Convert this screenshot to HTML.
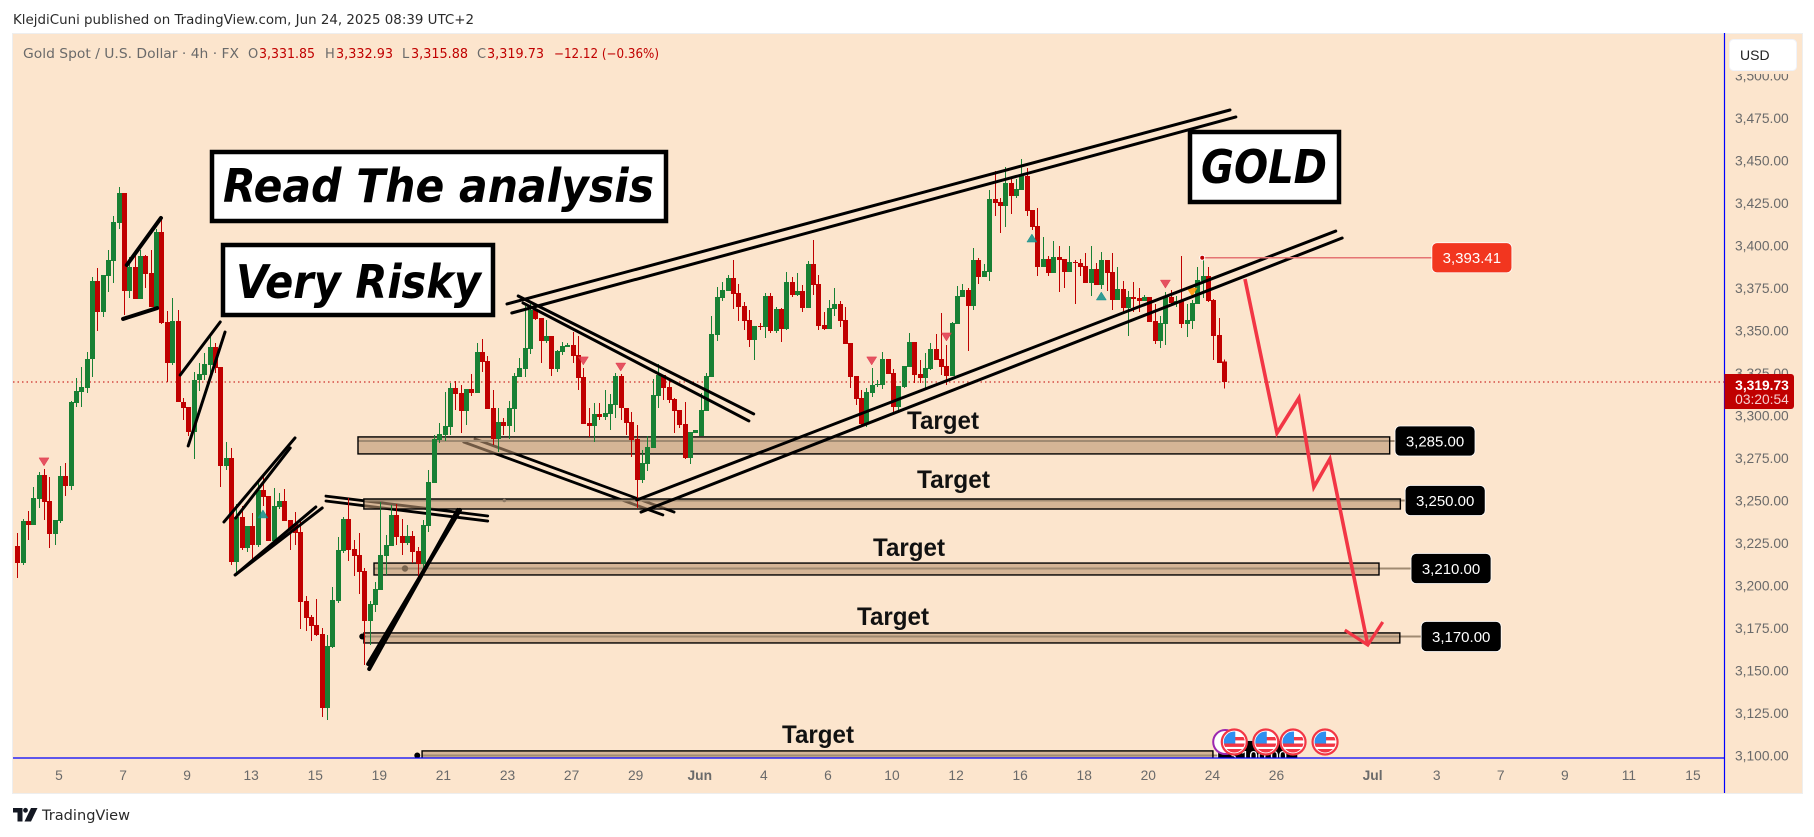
<!DOCTYPE html>
<html lang="en">
<head>
<meta charset="utf-8">
<title>Gold Spot / U.S. Dollar 4h chart</title>
<style>
html,body{margin:0;padding:0;background:#fff;width:1814px;height:837px;overflow:hidden}
svg{display:block;font-family:"DejaVu Sans","Liberation Sans",sans-serif}
.ax{font-family:"Liberation Sans",sans-serif;font-size:13.8px;fill:#6a6a6a}
.big{font-weight:bold;font-style:italic;font-size:46px;fill:#000}
.tgt{font-family:"Liberation Sans",sans-serif;font-weight:bold;font-size:25px;fill:#111}
</style>
</head>
<body>
<svg xmlns="http://www.w3.org/2000/svg" width="1814" height="837" viewBox="0 0 1814 837">
  <defs>
    <clipPath id="pane"><rect x="13" y="33" width="1711" height="725"/></clipPath>
    <clipPath id="flagclip"><circle cx="0" cy="0" r="10.5"/></clipPath>
  </defs>
  <rect width="1814" height="837" fill="#fff"/>
  <text x="13" y="24" font-size="13" fill="#2a2a2a" textLength="461" lengthAdjust="spacingAndGlyphs">KlejdiCuni published on TradingView.com, Jun 24, 2025 08:39 UTC+2</text>
  <rect x="12.5" y="33.5" width="1790" height="760" fill="#fce5cd" stroke="#eeeeee" stroke-width="1"/>

  <g clip-path="url(#pane)">
    <g id="muted-lines"></g>
    <g id="zones"></g>
    <g id="grid-price"></g>
    <g id="candles"></g>
    <g id="markers"></g>
    <g id="lines"></g>
    <g id="zone-labels"></g>
    <g id="arrow"></g>
    <g id="alert"></g>
    <g id="events"></g>
  </g>

  <g>
    <rect x="223" y="245" width="270" height="70" fill="#fff" stroke="#000" stroke-width="4.5"/>
    <text class="big" x="236" y="298" textLength="245" lengthAdjust="spacingAndGlyphs">Very Risky</text>
  </g>
  <g>
    <rect x="212" y="152" width="454" height="69" fill="#fff" stroke="#000" stroke-width="4.5"/>
    <text class="big" x="223" y="202" textLength="431" lengthAdjust="spacingAndGlyphs">Read The analysis</text>
  </g>
  <g>
    <rect x="1190" y="132" width="149" height="70" fill="#fff" stroke="#000" stroke-width="4.5"/>
    <text class="big" x="1201" y="183" textLength="126" lengthAdjust="spacingAndGlyphs">GOLD</text>
  </g>

  <text class="tgt" x="907" y="429" textLength="72" lengthAdjust="spacingAndGlyphs">Target</text>
  <text class="tgt" x="917" y="488" textLength="73" lengthAdjust="spacingAndGlyphs">Target</text>
  <text class="tgt" x="873" y="556" textLength="72" lengthAdjust="spacingAndGlyphs">Target</text>
  <text class="tgt" x="857" y="625" textLength="72" lengthAdjust="spacingAndGlyphs">Target</text>
  <text class="tgt" x="782" y="743" textLength="72" lengthAdjust="spacingAndGlyphs">Target</text>

  <g font-size="13">
    <text x="23" y="58" fill="#6a6a6a" textLength="216" lengthAdjust="spacingAndGlyphs">Gold Spot / U.S. Dollar · 4h · FX</text>
    <text x="248" y="58" fill="#6a6a6a">O</text>
    <text x="259" y="58" fill="#c00000" textLength="56" lengthAdjust="spacingAndGlyphs">3,331.85</text>
    <text x="325" y="58" fill="#6a6a6a">H</text>
    <text x="336" y="58" fill="#c00000" textLength="57" lengthAdjust="spacingAndGlyphs">3,332.93</text>
    <text x="402" y="58" fill="#6a6a6a">L</text>
    <text x="411" y="58" fill="#c00000" textLength="57" lengthAdjust="spacingAndGlyphs">3,315.88</text>
    <text x="477" y="58" fill="#6a6a6a">C</text>
    <text x="487" y="58" fill="#c00000" textLength="57" lengthAdjust="spacingAndGlyphs">3,319.73</text>
    <text x="554" y="58" fill="#c00000" textLength="105" lengthAdjust="spacingAndGlyphs">−12.12 (−0.36%)</text>
  </g>

  <g id="y-axis"></g>
  <g id="x-axis"></g>

  <line x1="13" y1="758" x2="1724" y2="758" stroke="#0000ff" stroke-width="1.2"/>
  <line x1="1724.5" y1="33" x2="1724.5" y2="793" stroke="#0000ff" stroke-width="1.2"/>

  <rect x="1725.5" y="34" width="76.5" height="40" fill="#fce5cd"/>
  <g>
    <rect x="1729.5" y="39.5" width="67" height="31" rx="4" fill="#fff" stroke="#f0f3fa"/>
    <text x="1740" y="60" font-family="Liberation Sans, sans-serif" font-size="14" fill="#222">USD</text>
  </g>
  <g>
    <path d="M1724.5 374H1791a3 3 0 0 1 3 3V406a3 3 0 0 1 -3 3H1724.5Z" fill="#c00000"/>
    <text x="1762" y="390" text-anchor="middle" font-family="Liberation Sans, sans-serif" font-size="13.8" font-weight="bold" fill="#ffffff">3,319.73</text>
    <text x="1762" y="404" text-anchor="middle" font-family="Liberation Sans, sans-serif" font-size="13.8" fill="#f6d0d0">03:20:54</text>
  </g>

  <g>
    <path d="M13 808H22.5V821.5H17.5V812.5H13Z" fill="#131722"/>
    <circle cx="25.5" cy="810.3" r="2.4" fill="#131722"/>
    <path d="M31 808H37.5L31 821.5H24.5Z" fill="#131722"/>
    <text x="42" y="820" font-size="14.5" fill="#2a2a2a" textLength="88" lengthAdjust="spacingAndGlyphs">TradingView</text>
  </g>

<script>
// ---- Candle data (one entry per 4h bar) ----
const opens = [
3223.2,3213.2,3237.9,3235.6,3250.9,3265.0,3249.7,3230.3,3237.9,3264.4,
3258.5,3307.3,3313.8,3316.2,3333.2,3379.1,3360.9,3382.0,3390.9,3413.2,
3430.9,3373.2,3387.3,3368.5,3393.8,3383.8,3363.8,3407.9,3355.0,3330.9,
3355.6,3307.9,3305.0,3290.3,3320.9,3323.8,3329.7,3340.3,3328.5,3270.3,
3275.0,3213.8,3240.3,3222.1,3235.0,3223.8,3256.2,3252.6,3226.2,3246.2,
3249.7,3238.5,3236.2,3231.5,3190.9,3181.5,3176.8,3171.5,3128.0,3163.8,
3190.9,3220.3,3239.1,3221.5,3218.0,3208.5,3179.1,3188.5,3197.4,3217.4,
3223.2,3241.5,3229.1,3225.0,3229.1,3220.3,3212.6,3235.0,3260.3,3285.6,
3288.5,3293.2,3316.2,3313.2,3302.6,3315.6,3313.2,3337.4,3332.1,3304.4,
3286.2,3296.2,3293.8,3303.8,3322.6,3327.3,3339.1,3362.1,3357.4,3343.8,
3346.8,3327.3,3337.4,3340.3,3341.5,3335.6,3322.6,3295.6,3293.8,3300.9,
3299.1,3300.9,3306.2,3323.2,3304.4,3296.2,3286.2,3262.1,3271.5,3280.9,
3311.5,3323.8,3316.8,3309.7,3303.2,3295.0,3275.0,3289.7,3288.0,3302.6,
3322.6,3347.4,3369.1,3373.2,3380.9,3372.0,3364.4,3356.2,3344.4,3352.6,
3352.0,3370.3,3349.7,3362.6,3350.9,3378.5,3370.9,3373.2,3363.2,3389.1,
3377.3,3353.2,3350.9,3362.6,3365.6,3356.2,3342.6,3323.2,3310.3,3295.0,
3313.2,3317.9,3317.9,3333.2,3325.0,3305.0,3316.8,3328.5,3343.2,3324.4,
3322.0,3327.3,3339.1,3333.2,3329.1,3323.2,3353.8,3369.7,3373.8,3364.4,
3391.5,3381.5,3384.4,3427.4,3425.6,3423.2,3436.8,3429.1,3432.6,3440.9,
3420.9,3411.5,3387.3,3392.1,3383.8,3393.2,3392.1,3384.4,3390.3,3389.7,
3387.9,3377.9,3386.2,3376.8,3391.5,3384.4,3367.9,3374.4,3363.2,3369.7,
3369.1,3367.3,3369.7,3355.6,3343.8,3353.8,3369.7,3366.2,3367.3,3353.8,
3355.6,3365.6,3379.1,3382.0,3367.9,3347.4,3331.85];
const highs = [
3230.9,3239.1,3243.8,3257.9,3266.8,3268.5,3263.8,3238.5,3270.3,3272.1,
3308.5,3322.1,3328.5,3337.4,3381.5,3386.8,3382.6,3397.3,3417.4,3434.4,
3430.9,3393.2,3396.8,3397.3,3394.4,3397.3,3409.7,3416.2,3361.5,3369.1,
3362.1,3310.3,3305.0,3325.6,3330.9,3336.8,3346.2,3342.6,3328.5,3284.4,
3280.9,3247.9,3246.8,3235.0,3242.6,3260.9,3265.0,3252.6,3257.4,3254.4,
3256.8,3238.5,3243.2,3238.5,3193.8,3182.6,3192.1,3175.0,3170.9,3199.1,
3228.5,3240.3,3251.5,3226.8,3230.9,3210.3,3190.9,3202.1,3249.1,3229.7,
3247.4,3247.9,3239.1,3235.6,3232.1,3222.7,3238.5,3268.0,3288.5,3295.6,
3313.8,3319.1,3320.3,3317.9,3315.6,3324.4,3342.6,3345.0,3335.0,3315.0,
3304.4,3298.5,3308.5,3325.0,3333.8,3364.4,3365.6,3365.6,3357.4,3356.2,
3346.8,3338.5,3343.2,3342.6,3349.1,3346.8,3327.9,3304.4,3307.3,3307.3,
3315.0,3312.6,3325.0,3324.4,3304.4,3302.0,3294.4,3279.7,3288.0,3321.5,
3330.3,3323.8,3322.1,3310.3,3303.2,3307.9,3290.3,3291.5,3313.2,3325.0,
3358.5,3375.6,3378.5,3382.6,3391.5,3377.3,3366.8,3362.1,3352.6,3354.4,
3372.0,3372.0,3363.8,3363.2,3384.4,3381.5,3383.8,3376.8,3390.9,3403.2,
3382.6,3360.9,3367.9,3375.0,3367.3,3363.8,3342.6,3323.2,3315.0,3316.2,
3327.9,3320.9,3337.4,3333.2,3327.3,3317.4,3329.1,3348.5,3343.2,3332.6,
3336.8,3342.6,3347.9,3360.3,3341.5,3355.0,3376.2,3377.3,3375.0,3398.5,
3392.6,3389.1,3432.6,3443.8,3427.9,3446.2,3439.7,3439.1,3450.9,3445.6,
3420.9,3422.1,3405.0,3393.8,3402.6,3399.7,3392.1,3399.7,3391.5,3392.1,
3395.6,3399.7,3389.7,3396.2,3391.5,3395.6,3387.3,3379.1,3373.2,3378.5,
3375.0,3370.9,3369.7,3365.6,3358.5,3372.6,3373.8,3370.3,3393.8,3365.6,
3367.9,3387.3,3392.6,3387.3,3368.5,3357.4,3332.93];
const lows = [
3204.4,3212.1,3226.8,3235.6,3245.6,3238.5,3222.1,3223.8,3236.8,3252.6,
3256.2,3305.0,3305.0,3313.2,3322.6,3349.7,3357.9,3372.6,3377.9,3409.7,
3359.1,3369.1,3368.5,3368.5,3375.0,3363.8,3363.8,3353.8,3319.7,3329.7,
3307.9,3297.4,3288.0,3274.4,3314.4,3320.9,3323.8,3325.0,3257.9,3268.0,
3212.1,3207.4,3220.9,3219.7,3215.6,3222.7,3246.8,3226.2,3225.0,3245.0,
3237.9,3220.9,3223.8,3174.4,3173.2,3167.4,3170.3,3122.7,3120.9,3163.2,
3189.7,3219.1,3214.4,3205.6,3195.0,3153.2,3165.0,3184.4,3197.4,3206.2,
3223.2,3223.8,3218.0,3223.8,3213.2,3203.8,3207.4,3231.5,3260.3,3283.8,
3285.0,3288.5,3303.2,3289.7,3294.4,3311.5,3313.2,3325.6,3303.8,3282.7,
3278.5,3288.5,3286.2,3290.3,3322.6,3322.6,3336.2,3356.2,3330.9,3342.6,
3323.2,3325.6,3335.6,3340.3,3330.9,3315.0,3295.0,3287.4,3284.4,3297.4,
3297.4,3291.5,3298.5,3297.4,3288.5,3275.6,3245.6,3260.3,3267.4,3280.9,
3304.4,3309.1,3307.3,3289.7,3292.6,3274.4,3271.5,3289.7,3288.0,3302.6,
3322.6,3343.8,3367.3,3373.2,3362.6,3355.6,3350.3,3340.3,3332.6,3350.3,
3345.6,3348.5,3348.5,3343.2,3350.3,3369.7,3370.3,3360.9,3363.2,3370.9,
3350.3,3350.3,3350.9,3358.5,3352.0,3342.0,3316.2,3306.2,3294.4,3293.2,
3310.9,3316.8,3315.6,3324.4,3301.5,3301.5,3316.2,3328.5,3319.1,3319.1,
3315.0,3326.7,3332.6,3323.8,3317.9,3323.2,3353.8,3369.7,3337.9,3362.1,
3377.3,3381.5,3379.1,3417.4,3407.4,3410.9,3418.5,3427.9,3432.6,3417.4,
3409.1,3382.0,3387.3,3382.0,3383.8,3372.6,3375.0,3384.4,3365.6,3382.0,
3377.9,3370.3,3376.8,3374.4,3373.2,3362.1,3367.9,3359.7,3346.8,3360.9,
3360.9,3367.3,3355.0,3342.0,3339.7,3341.5,3365.0,3363.8,3351.5,3346.2,
3350.9,3365.6,3369.1,3366.8,3332.6,3330.9,3315.88];
const closes = [
3213.2,3237.9,3235.6,3251.5,3265.0,3249.1,3230.3,3238.5,3264.4,3258.5,
3307.9,3314.4,3316.8,3333.2,3379.1,3360.9,3382.6,3391.5,3413.8,3430.9,
3373.2,3387.3,3368.5,3393.8,3383.2,3363.8,3407.9,3354.4,3330.9,3355.6,
3307.9,3304.4,3290.3,3320.9,3324.4,3330.3,3340.3,3327.9,3270.3,3275.0,
3213.8,3240.3,3222.1,3235.0,3223.8,3256.2,3252.1,3226.2,3246.8,3249.7,
3237.9,3232.6,3230.9,3190.3,3180.9,3176.2,3170.9,3128.0,3164.4,3191.5,
3220.9,3239.1,3220.9,3217.4,3208.0,3179.1,3189.1,3197.9,3218.0,3223.8,
3241.5,3228.5,3225.0,3229.1,3219.7,3212.6,3235.6,3260.9,3286.2,3289.1,
3293.8,3316.2,3312.6,3302.6,3315.6,3313.2,3337.4,3331.5,3303.8,3286.2,
3296.2,3293.8,3304.4,3323.2,3327.9,3339.7,3362.1,3356.8,3343.8,3346.8,
3327.3,3337.9,3340.9,3341.5,3335.0,3322.1,3295.0,3293.8,3300.9,3299.1,
3301.5,3306.8,3323.2,3304.4,3295.6,3285.6,3262.1,3272.1,3281.5,3312.0,
3323.8,3316.2,3309.1,3302.6,3294.4,3275.0,3290.3,3291.5,3303.2,3323.2,
3347.9,3369.7,3373.8,3380.9,3371.5,3363.8,3355.6,3344.4,3352.6,3352.0,
3370.3,3349.7,3362.6,3350.9,3378.5,3370.9,3373.2,3363.2,3389.1,3376.8,
3352.6,3350.9,3363.2,3365.6,3355.6,3342.0,3322.6,3309.7,3295.0,3313.8,
3317.9,3318.5,3333.2,3324.4,3305.0,3317.4,3329.1,3343.2,3323.8,3322.0,
3327.9,3339.1,3332.6,3328.5,3323.2,3354.4,3370.3,3373.8,3364.4,3391.5,
3381.5,3385.0,3427.4,3425.0,3423.2,3436.8,3429.1,3433.2,3440.9,3420.3,
3410.9,3387.3,3392.1,3383.8,3393.2,3391.5,3384.4,3390.3,3389.7,3387.3,
3377.9,3386.2,3376.8,3391.5,3383.8,3367.9,3374.4,3363.2,3369.7,3368.5,
3367.3,3369.7,3355.0,3343.8,3354.4,3369.7,3366.2,3367.3,3353.8,3356.2,
3366.2,3379.7,3382.0,3367.3,3346.8,3330.9,3319.73];

// ---- Axis labels ----
const yTickLabels = ["3,500.00","3,475.00","3,450.00","3,425.00","3,400.00","3,375.00","3,350.00","3,325.00","3,300.00","3,275.00","3,250.00","3,225.00","3,200.00","3,175.00","3,150.00","3,125.00","3,100.00"];
const xTickLabels = ["5","7","9","13","15","19","21","23","27","29","Jun","4","6","10","12","16","18","20","24","26","Jul","3","7","9","11","15"];
const xTickBars = [7.8,19.8,31.8,43.8,55.8,67.8,79.8,91.8,103.8,115.8,127.8,139.8,151.8,163.8,175.8,187.8,199.8,211.8,223.8,235.8,253.8,265.8,277.8,289.8,301.8,313.8];

// ---- Target zones: bar range, price band, level, tag ----
const zoneLeftBars = [63.8,64.9,66.8,64.9,75.8];
const zoneRightBars = [257.0,259.0,255.0,258.9,223.9];
const zoneTopPrices = [3287.4,3250.9,3213.2,3172.1,3102.7];
const zoneBottomPrices = [3277.4,3245.0,3206.2,3166.2,3096.8];
const zoneLevels = [3285,3250,3210,3170,3100];
const zoneTagBars = [258.0,259.9,261.0,262.9,224.8];
const zoneTags = ["3,285.00","3,250.00","3,210.00","3,170.00","3,100.00"];

// ---- Trendlines: [barA, priceA, barB, priceB] ----
const heavyLines = [[19.8,3356.8,26.2,3363.2],[20.5,3388.5,26.9,3416.2],[65.9,3150.9,82.5,3244.4],[65.7,3153.8,82.9,3244.4]];
const mediumLines = [[30.5,3323.8,38.0,3355.0],[32.0,3282.1,38.9,3349.1],[38.7,3237.4,52.0,3286.8],[40.9,3239.7,51.1,3280.9],[40.8,3206.2,55.9,3246.2],[40.8,3206.2,57.1,3245.6]];
const channelLines = [[91.7,3365.6,227.1,3479.7],[92.6,3360.3,228.2,3475.6],[93.8,3370.3,137.9,3300.9],[94.7,3366.2,137.0,3296.8],[116.0,3250.3,246.9,3408.5],[116.8,3243.2,248.1,3404.4]];
const fadedLines = [[57.8,3252.6,88.1,3240.9],[57.8,3249.7,88.1,3237.9],[83.6,3284.4,120.9,3241.5],[85.7,3286.2,123.0,3243.2]];

// ---- Projection arrow ----
const arrowBars = [229.9,235.9,240.0,242.8,245.8,252.9];
const arrowPrices = [3380.3,3289.7,3310.3,3257.9,3274.4,3165.0];
const arrowHeadBars = [248.6,252.9,255.7];
const arrowHeadPrices = [3173.8,3165.0,3178.5];

// ---- Signals ----
const sellSignalBars = [5,106,113,160,174,215];
const sellSignalPrices = [3272.7,3332.1,3328.5,3332.1,3346.2,3377.3];
const warnSignalBars = [220];
const warnSignalPrices = [3372.6];
const buySignalBars = [46,190,203];
const buySignalPrices = [3242.1,3404.4,3370.3];

// ---- Alert level and events ----
const alertStartBar = 221.9;
const alertEndBar = 264.9;
const alertPrice = 3392.8;
const alertTag = "3,393.41";
const flagEventBars = [227.9,233.8,238.9,244.9];
const purpleEventBars = [226.2];

// ---- Axis functions ----
const SVGNS = "http://www.w3.org/2000/svg";
function xScale(bar){ return 17.3 + bar * 5.34; }
function yScale(price){ return 288 + (3375 - price) * 1.7; }
function mk(parent, tag, attrs){
  const node = document.createElementNS(SVGNS, tag);
  for (const k in attrs) node.setAttribute(k, attrs[k]);
  parent.appendChild(node);
  return node;
}
function byId(id){ return document.getElementById(id); }

// Faded lines sit below the translucent zones
fadedLines.forEach(function(l){
  const el = mk(byId("muted-lines"), "line", {x1:xScale(l[0]),y1:yScale(l[1]),x2:xScale(l[2]),y2:yScale(l[3]),stroke:"#000",  "stroke-width":2.8,"stroke-linecap":"round"});
  
  
});

// Zones
zoneLevels.forEach(function(level,i){
  const x0 = xScale(zoneLeftBars[i]), x1 = xScale(zoneRightBars[i]);
  const y0 = yScale(zoneTopPrices[i]), y1 = yScale(zoneBottomPrices[i]);
  const g = byId("zones");
  const band = mk(g, "rect", {x:x0,y:y0,width:x1-x0,height:y1-y0,fill:"rgba(187,149,113,0.6)",stroke:"none"});
  
  
  const lvl = mk(g, "line", {x1:x0,y1:yScale(level),x2:xScale(zoneTagBars[i]),y2:yScale(level),stroke:"#a08a72","stroke-width":2});
  
  
  const edge = mk(g, "rect", {x:x0,y:y0,width:x1-x0,height:y1-y0,fill:"none",stroke:"#000","stroke-width":1.4});
  
  

  const lg = byId("zone-labels");
  const tagX = xScale(zoneTagBars[i]), tagY = yScale(level);
  const box = mk(lg, "rect", {x:tagX,y:tagY-15,width:80,height:30,rx:5,fill:"#000",stroke:"#fff","stroke-width":0.8});
  
  
  const t = mk(lg, "text", {x:tagX+40,y:tagY+5.5,"text-anchor":"middle",fill:"#fff","font-size":"15","font-family":"Liberation Sans, sans-serif"});
  t.textContent = zoneTags[i];
  
  
});

// Zone anchor dots
const anchorDots = [[72.6,3210,"#7a6650",3.2],[91.2,3250,"#8d7a66",1.8],[64.6,3170,"#000",3],[74.9,3100,"#000",3]];
anchorDots.forEach(function(d){
  const el = mk(byId("zones"), "circle", {cx:xScale(d[0]),cy:yScale(d[1]),r:d[3],fill:d[2]});
  
  
});

// Last price dotted line
const lastLine = mk(byId("grid-price"), "line", {x1:13,x2:1724,y1:yScale(closes[closes.length-1]),y2:yScale(closes[closes.length-1]),stroke:"#c00000","stroke-width":1,"stroke-dasharray":"1.5 3"});



// Candles
closes.forEach(function(c,i){
  const up = c >= opens[i];
  const col = up ? "#188034" : "#c00000";
  const cx = Math.round(xScale(i));
  const g = mk(byId("candles"), "g", {"shape-rendering":"crispEdges"});
  
  
  mk(g, "rect", {x:cx,y:yScale(highs[i]),width:1,height:Math.max(1,yScale(lows[i])-yScale(highs[i])),fill:col});
  const top = yScale(Math.max(c,opens[i])), bot = yScale(Math.min(c,opens[i]));
  mk(g, "rect", {x:cx-2,y:top,width:5,height:Math.max(1,bot-top),fill:col});
});

// Signal markers
function tri(bar, price, down, fill, name){
  const x = xScale(bar), y = yScale(price);
  const pts = down ? [[x-5,y-4],[x+5,y-4],[x,y+4]] : [[x-5,y+4],[x+5,y+4],[x,y-4]];
  const el = mk(byId("markers"), "polygon", {points:pts.map(function(p){return p.join(",");}).join(" "),fill:fill,"fill-opacity":0.85,stroke:fill,"stroke-width":0.5});
  
  
}
sellSignalBars.forEach(function(b,i){ tri(b, sellSignalPrices[i], true, "#e0384c", "sell-signal"); });
warnSignalBars.forEach(function(b,i){ tri(b, warnSignalPrices[i], true, "#ff9800", "warning-signal"); });
buySignalBars.forEach(function(b,i){ tri(b, buySignalPrices[i], false, "#138f8a", "buy-signal"); });

// Trendlines on top of candles
function drawLines(list, w){
  list.forEach(function(l){
    const el = mk(byId("lines"), "line", {x1:xScale(l[0]),y1:yScale(l[1]),x2:xScale(l[2]),y2:yScale(l[3]),stroke:"#000","stroke-width":w,"stroke-linecap":"round"});
    
    
  });
}
drawLines(heavyLines, 4);
drawLines(mediumLines, 3);
drawLines(channelLines, 3);

// Arrow
function polyPts(bars, prices){
  return bars.map(function(b,i){ return xScale(b)+","+yScale(prices[i]); }).join(" ");
}
const arrowBody = mk(byId("arrow"), "polyline", {points:polyPts(arrowBars,arrowPrices),fill:"none",stroke:"#f23645","stroke-width":3.6,"stroke-linejoin":"miter"});


const arrowHead = mk(byId("arrow"), "polyline", {points:polyPts(arrowHeadBars,arrowHeadPrices),fill:"none",stroke:"#f23645","stroke-width":3.2});



// Alert line and tag
const ax0 = xScale(alertStartBar), ax1 = xScale(alertEndBar), ay = yScale(alertPrice);
const alertLine = mk(byId("alert"), "line", {x1:ax0,y1:ay,x2:ax1,y2:ay,stroke:"#e57373","stroke-width":1.4});


const alertDot = mk(byId("alert"), "circle", {cx:ax0,cy:ay,r:2.5,fill:"#c00000",stroke:"#fff","stroke-width":1});


const alertBox = mk(byId("alert"), "rect", {x:ax1,y:ay-15,width:80,height:30,rx:5,fill:"#f2361f",stroke:"#fff","stroke-width":0.8});


const alertText = mk(byId("alert"), "text", {x:ax1+40,y:ay+5.5,"text-anchor":"middle",fill:"#fff","font-size":"15","font-family":"Liberation Sans, sans-serif"});
alertText.textContent = alertTag;



// Event icons
purpleEventBars.forEach(function(b){
  const el = mk(byId("events"), "circle", {cx:xScale(b),cy:742,r:12,fill:"#fff",stroke:"#9c27b0","stroke-width":2});
  
  
});
flagEventBars.forEach(function(b){
  const g = mk(byId("events"), "g", {transform:"translate("+xScale(b)+",742)"});
  
  
  mk(g, "circle", {cx:0,cy:0,r:12.5,fill:"#fff",stroke:"#f23645","stroke-width":2.2});
  const c = mk(g, "g", {"clip-path":"url(#flagclip)"});
  mk(c, "rect", {x:-11,y:-11,width:22,height:22,fill:"#fff"});
  mk(c, "rect", {x:-11,y:-5,width:22,height:3.4,fill:"#f23645"});
  mk(c, "rect", {x:-11,y:1.5,width:22,height:3.4,fill:"#f23645"});
  mk(c, "rect", {x:-11,y:7,width:22,height:4,fill:"#f23645"});
  mk(c, "rect", {x:-11,y:-11,width:12,height:12.5,fill:"#2f8ff0"});
});

// Price axis (drawn behind the mask and tags already in the markup)
const yAxisGroup = byId("y-axis");
yTickLabels.forEach(function(label){
  const price = parseFloat(label.replace(",",""));
  const t = mk(yAxisGroup, "text", {"class":"ax",x:1735,y:yScale(price)+5});
  t.textContent = label;
  
  
});

// Time axis
xTickLabels.forEach(function(label,i){
  const isMonth = label === "Jun" || label === "Jul";
  const t = mk(byId("x-axis"), "text", {"class":"ax",x:xScale(xTickBars[i]),y:780,"text-anchor":"middle","font-weight":isMonth?"bold":"normal"});
  t.textContent = label;
  
  
});
</script>
</svg>
</body>
</html>
